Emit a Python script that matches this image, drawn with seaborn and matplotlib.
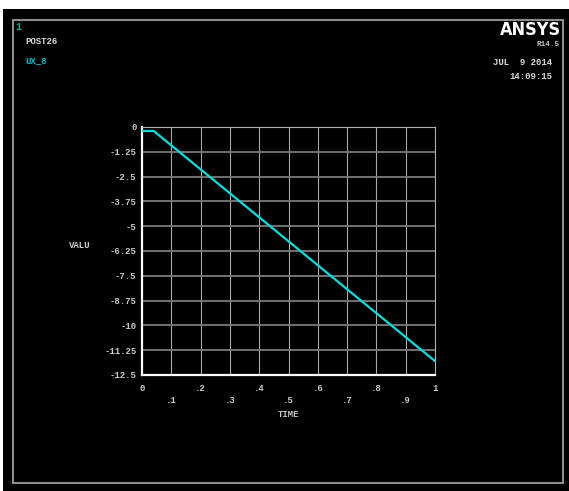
import matplotlib
matplotlib.use("Agg")
import matplotlib.pyplot as plt
from matplotlib.patches import Rectangle
import seaborn as sns
import pandas as pd

# UX_8 displacement history
time = [0.0, 0.04, 1.0]
valu = [-0.2, -0.2, -11.8]

x_ticks = [0.0, 0.1, 0.2, 0.3, 0.4, 0.5, 0.6, 0.7, 0.8, 0.9, 1.0]
x_tick_labels = ["0", ".1", ".2", ".3", ".4", ".5", ".6", ".7", ".8", ".9", "1"]
y_ticks = [0, -1.25, -2.5, -3.75, -5, -6.25, -7.5, -8.75, -10, -11.25, -12.5]
y_tick_labels = ["0", "-1.25", "-2.5", "-3.75", "-5", "-6.25", "-7.5", "-8.75", "-10", "-11.25", "-12.5"]

sns.set_style("dark")
plt.rcParams["font.family"] = ["Liberation Mono", "DejaVu Sans Mono"]
plt.rcParams["font.weight"] = "bold"
plt.rcParams["axes.labelweight"] = "bold"

W, H = 569, 491
fig = plt.figure(figsize=(W / 100, H / 100), dpi=100, facecolor="white")

# black graphics window and its frame, kept behind the axes
fig.patches.append(Rectangle((3 / W, 0), 1 - 3 / W, 1 - 9 / H, transform=fig.transFigure,
                             facecolor="black", edgecolor="none", zorder=-10))
fig.patches.append(Rectangle((13 / W, 1 - 483 / H), (563 - 13) / W, (483 - 20) / H,
                             transform=fig.transFigure, facecolor="none",
                             edgecolor="#8c8c8c", lw=1.5, zorder=-9))

ax = fig.add_axes([142 / W, 1 - 375 / H, (435 - 142) / W, (375 - 127) / H])
ax.set_facecolor("black")

df = pd.DataFrame({"TIME": time, "VALU": valu})
sns.lineplot(data=df, x="TIME", y="VALU", ax=ax, color="#00e0e0", lw=1.6, zorder=5)

ax.set_xlim(0, 1)
ax.set_ylim(-12.5, 0)
ax.set_xticks(x_ticks)
ax.set_xticklabels([lab if i % 2 == 0 else "\n" + lab for i, lab in enumerate(x_tick_labels)],
                   linespacing=1.45)
ax.set_yticks(y_ticks)
ax.set_yticklabels(y_tick_labels)

ax.grid(False)
for x in x_ticks[1:-1]:
    ax.axvline(x, color="#a8a8a8", lw=0.8, zorder=1)
for y in y_ticks[1:-1]:
    ax.axhline(y, color="#7a7a7a", lw=1.3, zorder=1)

for side in ("left", "bottom"):
    ax.spines[side].set_color("white")
    ax.spines[side].set_linewidth(1.6)
for side in ("top", "right"):
    ax.spines[side].set_color("#b0b0b0")
    ax.spines[side].set_linewidth(0.8)
    ax.spines[side].set_visible(True)

ax.tick_params(axis="x", colors="#c8c8c8", labelsize=6.5, length=3.5, width=0.8,
               color="#a8a8a8", pad=3)
ax.tick_params(axis="y", colors="#c8c8c8", labelsize=6.5, length=2, width=0.8,
               color="#a8a8a8", pad=2)

ax.set_xlabel("TIME", color="#c8c8c8", fontsize=6.5, fontweight="bold")
ax.xaxis.set_label_coords(0.5, -0.14)
ax.set_ylabel("VALU", color="#c8c8c8", fontsize=6.5, fontweight="bold",
              rotation=0, ha="center", va="center")
ax.yaxis.set_label_coords(-0.212, 0.524)

# window annotations
fig.text(15 / W, 1 - 22 / H, "1", color="#00a8a0", fontsize=7.5, fontweight="bold", va="top")
fig.text(25 / W, 1 - 37 / H, "POST26", color="#d8d8d8", fontsize=6.5, va="top")
fig.text(25 / W, 1 - 56 / H, "UX_8", color="#00b8c8", fontsize=6.5, va="top")

fig.text(561 / W, 1 - 21 / H, "ANSYS", color="white", fontsize=13, fontweight="bold",
         fontstretch="condensed", ha="right", va="top",
         family=["DejaVu Sans", "Liberation Sans"])
fig.text(560 / W, 1 - 41 / H, "R14.5", color="#c8c8c8", fontsize=5.5, ha="right", va="top")
fig.text(552 / W, 1 - 58 / H, "JUL  9 2014", color="#d8d8d8", fontsize=6.5, ha="right", va="top")
fig.text(552 / W, 1 - 72 / H, "14:09:15", color="#d8d8d8", fontsize=6.5, ha="right", va="top")

fig.savefig("out.png", dpi=100, facecolor="white")
